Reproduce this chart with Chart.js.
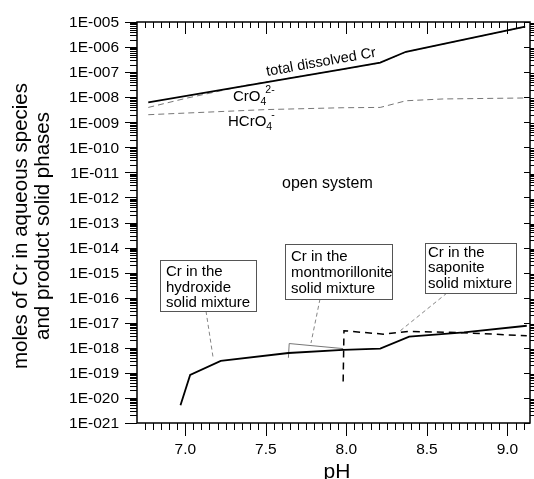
<!DOCTYPE html>
<html><head><meta charset="utf-8">
<script src="https://cdn.jsdelivr.net/npm/chart.js@4.4.0/dist/chart.umd.min.js"></script>
<style>html,body{margin:0;padding:0;background:#fff}canvas{display:block}</style>
</head><body>
<canvas id="c" width="534" height="479"></canvas>
<script>
// ---- data ----
const totalPH   = [6.77, 7.98, 8.21, 8.37, 9.11];
const totalCr   = [6.2e-9, 1.32e-7, 2.4e-7, 6.5e-7, 6.5e-6];
const cro4PH    = [6.77, 7.0, 7.38, 7.98, 8.21, 8.37, 9.11];
const cro4Cr    = [3.9e-9, 8.9e-9, 3.0e-8, 1.3e-7, 2.35e-7, 6.4e-7, 6.4e-6];
const hcro4PH   = [6.77, 7.5, 7.98, 8.21, 8.37, 8.6, 9.11];
const hcro4Cr   = [2.0e-9, 3.2e-9, 3.8e-9, 3.9e-9, 7.2e-9, 8.5e-9, 9.3e-9];
const solidPH   = [6.97, 7.03, 7.22, 7.64, 7.98, 8.21, 8.39, 8.73, 9.12];
const solidCr   = [5.1e-21, 8.3e-20, 3.0e-19, 6.2e-19, 8.3e-19, 9.3e-19, 2.8e-18, 4.1e-18, 7.6e-18];
const montPH    = [7.64, 7.645, 7.98];
const montCr    = [4.0e-19, 1.48e-18, 9.3e-19];
const sapPH     = [7.98, 7.985, 8.23, 8.39, 8.73, 9.12];
const sapCr     = [4.5e-20, 4.8e-18, 3.5e-18, 4.5e-18, 4.0e-18, 3.0e-18];
const xTicks    = [7.0, 7.5, 8.0, 8.5, 9.0];
const yTickExps = [-5,-6,-7,-8,-9,-10,-11,-12,-13,-14,-15,-16,-17,-18,-19,-20,-21];
const xTickLabels = xTicks.map(v => v.toFixed(1));
const yTickLabels = yTickExps.map(n => '1E-' + String(-n).padStart(3, '0'));

const pts = (xs, ys) => xs.map((x, i) => ({x, y: ys[i]}));
const FONT = '"Liberation Sans", Arial, sans-serif';

const deco = {
  id: 'deco',
  beforeDraw(chart) {
    const c = chart.ctx; c.save(); c.fillStyle = '#fff';
    c.fillRect(0, 0, chart.width, chart.height); c.restore();
  },
  afterDraw(chart) {
    const c = chart.ctx, a = chart.chartArea;
    const xs = chart.scales.x, ys = chart.scales.y;
    c.save();
    c.strokeStyle = '#000'; c.fillStyle = '#000';
    // frame
    c.lineWidth = 1.5;
    c.strokeRect(a.left, a.top, a.right - a.left, a.bottom - a.top);
    c.lineWidth = 1;
    // y ticks
    c.beginPath();
    yTickExps.forEach(n => {
      const y = Math.round(ys.getPixelForValue(Math.pow(10, n))) + 0.5;
      c.moveTo(a.left - 12, y); c.lineTo(a.left, y);
      c.moveTo(a.right - 6, y); c.lineTo(a.right, y);
      if (n > -21) {
        for (let k = 2; k <= 9; k++) {
          const yy = Math.round(ys.getPixelForValue(k * Math.pow(10, n - 1))) + 0.5;
          c.moveTo(a.left - 7, yy); c.lineTo(a.left, yy);
          c.moveTo(a.right, yy); c.lineTo(a.right + 4, yy);
        }
      }
    });
    // x ticks
    for (let i = 0; ; i++) {
      const v = 6.75 + i * 0.05;
      if (v > 9.14) break;
      const major = Math.abs(v * 2 - Math.round(v * 2)) < 1e-6;
      const x = Math.round(xs.getPixelForValue(v)) + 0.5;
      c.moveTo(x, a.bottom); c.lineTo(x, a.bottom + (major ? 13 : 7));
      c.moveTo(x, a.top); c.lineTo(x, a.top + (major ? 12 : 6));
    }
    c.stroke();
    // tick labels
    c.font = '15.5px ' + FONT;
    c.textAlign = 'right'; c.textBaseline = 'middle';
    yTickExps.forEach((n, i) => {
      c.fillText(yTickLabels[i], a.left - 18, ys.getPixelForValue(Math.pow(10, n)) + 1);
    });
    c.textAlign = 'center'; c.textBaseline = 'middle';
    xTicks.forEach((v, i) => c.fillText(xTickLabels[i], xs.getPixelForValue(v), 450));
    // axis titles
    c.font = '21px ' + FONT; c.textBaseline = 'alphabetic';
    c.fillText('pH', 337, 478);
    c.save();
    c.translate(0, 226); c.rotate(-Math.PI / 2);
    c.font = '20.5px ' + FONT; c.textBaseline = 'middle';
    c.fillText('moles of Cr in aqueous species', 0, 21);
    c.fillText('and product solid phases', 0, 43);
    c.restore();
    // curve labels
    c.save();
    c.translate(267, 76); c.rotate(-10 * Math.PI / 180);
    c.font = '14.5px ' + FONT; c.textAlign = 'left'; c.textBaseline = 'alphabetic';
    c.fillText('total dissolved Cr', 0, 0);
    c.restore();
    const chem = (x, y, main, sub, sup) => {
      c.textAlign = 'left'; c.textBaseline = 'alphabetic';
      c.font = '15px ' + FONT; c.fillText(main, x, y);
      const w = c.measureText(main).width;
      c.font = '10.5px ' + FONT; c.fillText(sub, x + w, y + 4);
      const w2 = c.measureText(sub).width;
      c.fillText(sup, x + w + w2 - 1, y - 8);
    };
    chem(233, 101, 'CrO', '4', '2-');
    chem(228, 126, 'HCrO', '4', '-');
    c.font = '16px ' + FONT; c.textAlign = 'left'; c.textBaseline = 'alphabetic';
    c.fillText('open system', 282, 188);
    // leader lines
    c.strokeStyle = '#666'; c.lineWidth = 0.8; c.setLineDash([4, 3]);
    c.beginPath();
    c.moveTo(206, 311); c.lineTo(213, 357);
    c.moveTo(320, 299); c.lineTo(311, 343);
    c.moveTo(447, 293); c.lineTo(400, 331);
    c.stroke();
    c.setLineDash([]);
    // annotation boxes
    const box = (x, y, w, h, lines, tx, bl) => {
      c.fillStyle = '#fff'; c.fillRect(x, y, w, h);
      c.strokeStyle = '#555'; c.lineWidth = 1; c.strokeRect(x + 0.5, y + 0.5, w, h);
      c.fillStyle = '#000'; c.font = '15px ' + FONT; c.textAlign = 'left'; c.textBaseline = 'alphabetic';
      lines.forEach((t, i) => c.fillText(t, tx, bl[i]));
    };
    box(160, 260, 96, 51, ['Cr in the', 'hydroxide', 'solid mixture'], 166, [276, 292, 307]);
    box(285, 244, 107, 55, ['Cr in the', 'montmorillonite', 'solid mixture'], 291, [261, 277, 293]);
    box(425, 243, 91, 50, ['Cr in the', 'saponite', 'solid mixture'], 428, [257, 272, 288]);
    c.restore();
  }
};

new Chart(document.getElementById('c'), {
  type: 'line',
  data: {
    datasets: [
      { label: 'total dissolved Cr', data: pts(totalPH, totalCr), borderColor: '#000', borderWidth: 1.8 },
      { label: 'CrO4 2-', data: pts(cro4PH, cro4Cr), borderColor: '#777', borderWidth: 1, borderDash: [6, 4] },
      { label: 'HCrO4 -', data: pts(hcro4PH, hcro4Cr), borderColor: '#777', borderWidth: 1, borderDash: [6, 4] },
      { label: 'Cr in solids', data: pts(solidPH, solidCr), borderColor: '#000', borderWidth: 1.8 },
      { label: 'montmorillonite', data: pts(montPH, montCr), borderColor: '#777', borderWidth: 1 },
      { label: 'saponite', data: pts(sapPH, sapCr), borderColor: '#000', borderWidth: 1.5, borderDash: [7, 5] }
    ]
  },
  options: {
    responsive: false, animation: false,
    layout: { padding: { left: 137, right: 4, top: 22, bottom: 56 } },
    elements: { point: { radius: 0 }, line: { tension: 0, fill: false } },
    plugins: { legend: { display: false }, tooltip: { enabled: false } },
    scales: {
      x: { type: 'linear', min: 6.7, max: 9.14, display: false },
      y: { type: 'logarithmic', min: 1e-21, max: 1e-5, display: false }
    }
  },
  plugins: [deco]
});
</script>
</body></html>
